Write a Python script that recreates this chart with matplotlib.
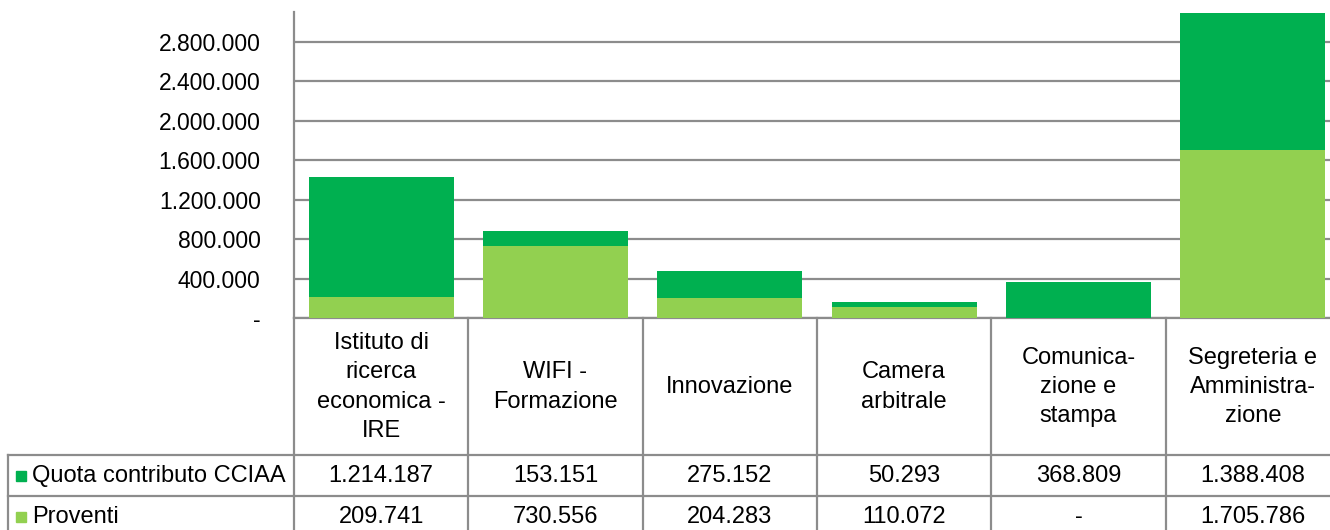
import numpy as np
import matplotlib.pyplot as plt

plt.rcParams['font.family'] = ['Liberation Sans', 'DejaVu Sans']

# data
categories = ["Istituto di\nricerca\neconomica -\nIRE", "WIFI -\nFormazione", "Innovazione",
              "Camera\narbitrale", "Comunica-\nzione e\nstampa", "Segreteria e\nAmministra-\nzione"]
quota = [1214187, 153151, 275152, 50293, 368809, 1388408]
proventi = [209741, 730556, 204283, 110072, 0, 1705786]
series_names = ["Quota contributo CCIAA", "Proventi"]
yticks = np.arange(0, 2800001, 400000)

DARK = "#00B050"
LIGHT = "#92D050"
GRID = "#8c8c8c"
FS = 17


def fmt(v):
    return "-" if v == 0 else f"{v:,}".replace(",", ".")


W, H = 1330, 530
fig = plt.figure(figsize=(W / 100, H / 100), dpi=100)


def box(l, t, r, b):
    return [l / W, 1 - b / H, (r - l) / W, (b - t) / H]


# bars
ax = fig.add_axes(box(294, 12, 1340, 318))
x = np.arange(len(categories))
ax.bar(x, proventi, 0.83, color=LIGHT, zorder=3)
ax.bar(x, quota, 0.83, bottom=proventi, color=DARK, zorder=3)
ax.set_xlim(-0.5, len(categories) - 0.5)
ax.set_ylim(0, 3.1e6)
ax.set_yticks(yticks)
ax.set_yticklabels([fmt(v) for v in yticks])
ax.yaxis.grid(True, color=GRID, lw=1.6, zorder=0)
ax.tick_params(axis='y', length=0, pad=24, labelsize=16.5)
ax.set_xticks([])
for s in ['top', 'right']:
    ax.spines[s].set_visible(False)
for s in ['left', 'bottom']:
    ax.spines[s].set_color(GRID)
    ax.spines[s].set_linewidth(1.6)

# data table under the bars
tax = fig.add_axes(box(8, 318, 1340, 537))
colw = (1340 - 294) / len(categories)
left = -0.5 - (294 - 8) / colw
tax.set_xlim(left, len(categories) - 0.5)
tax.set_ylim(537, 318)
tax.axis('off')

for k in range(len(categories) + 1):
    tax.plot([k - 0.5, k - 0.5], [318, 537], color=GRID, lw=1.6, clip_on=False)
tax.plot([left, left], [455, 537], color=GRID, lw=1.6, clip_on=False)
for yy in [455, 496]:
    tax.plot([left, len(categories) - 0.5], [yy, yy], color=GRID, lw=1.6, clip_on=False)

for i, c in enumerate(categories):
    tax.text(i, 387, c, ha='center', va='center', fontsize=FS, linespacing=1.42)

rows = [(quota, DARK, 476), (proventi, LIGHT, 517)]
for name, (vals, col, yy) in zip(series_names, rows):
    tax.plot(left + 13 / colw, yy, 's', ms=7.5, color=col, clip_on=False)
    tax.text(left + 24 / colw, yy, name, ha='left', va='center', fontsize=FS)
    for i, v in enumerate(vals):
        tax.text(i, yy, fmt(v), ha='center', va='center', fontsize=FS)

fig.savefig("out.png", dpi=100)
